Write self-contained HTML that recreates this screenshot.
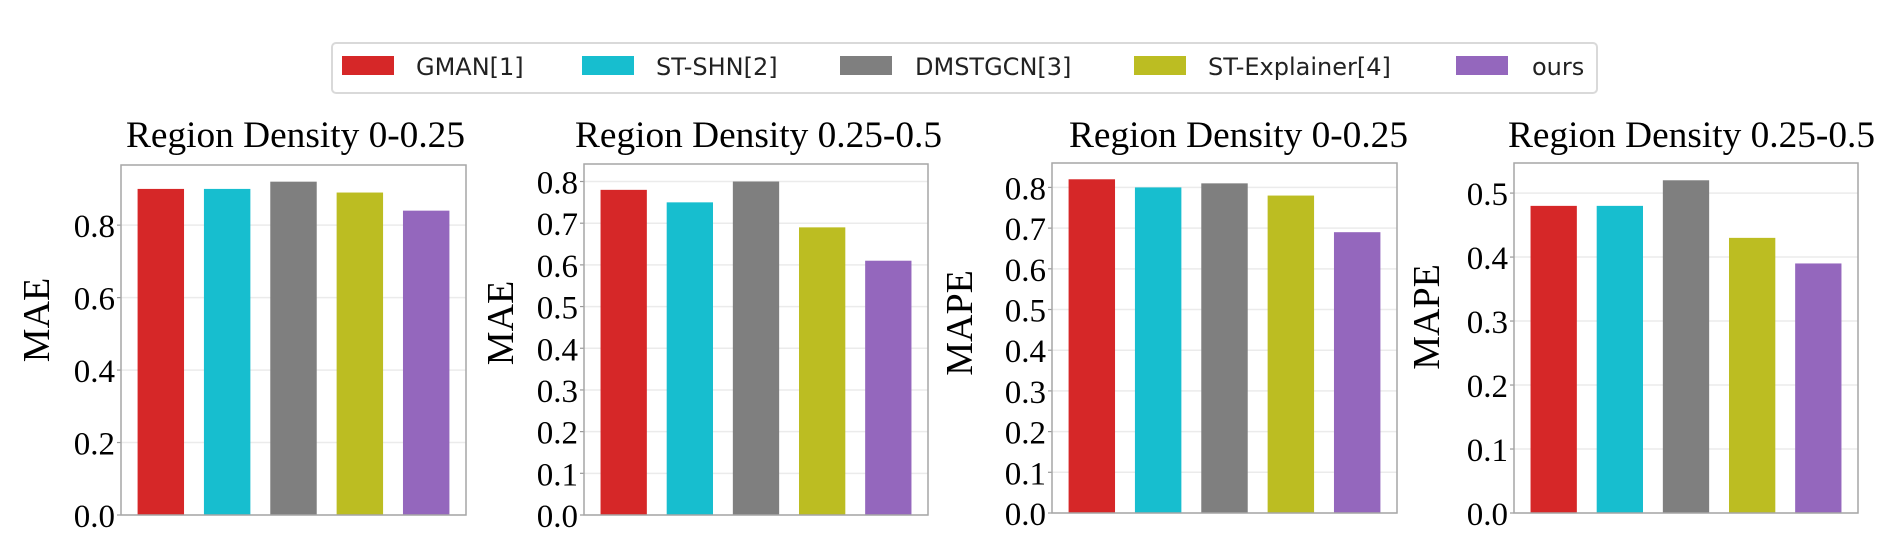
<!DOCTYPE html>
<html><head><meta charset="utf-8"><style>
html,body{margin:0;padding:0;background:#fff;}
svg{display:block;}
</style></head><body>
<svg id="chart" width="1900" height="558" viewBox="0 0 1900 558" xmlns="http://www.w3.org/2000/svg">
<g>
<rect x="332" y="43" width="1265" height="50" rx="4" fill="#fff" stroke="#d9d9d9" stroke-width="2"/>
</g>
</svg>
<script>
const methods = ["GMAN[1]", "ST-SHN[2]", "DMSTGCN[3]", "ST-Explainer[4]", "ours"];
const colors = ["#d62728", "#17becf", "#7f7f7f", "#bcbd22", "#9467bd"];
const titles = ["Region Density 0-0.25", "Region Density 0.25-0.5", "Region Density 0-0.25", "Region Density 0.25-0.5"];
const yLabels = ["MAE", "MAE", "MAPE", "MAPE"];
const valuesMAE1 = [0.90, 0.90, 0.92, 0.89, 0.84];
const valuesMAE2 = [0.78, 0.75, 0.80, 0.69, 0.61];
const valuesMAPE1 = [0.82, 0.80, 0.81, 0.78, 0.69];
const valuesMAPE2 = [0.48, 0.48, 0.52, 0.43, 0.39];
const ticks1 = ["0.0", "0.2", "0.4", "0.6", "0.8"];
const ticks2 = ["0.0", "0.1", "0.2", "0.3", "0.4", "0.5", "0.6", "0.7", "0.8"];
const ticks3 = ["0.0", "0.1", "0.2", "0.3", "0.4", "0.5", "0.6", "0.7", "0.8"];
const ticks4 = ["0.0", "0.1", "0.2", "0.3", "0.4", "0.5"];
const yMax = [0.966, 0.842, 0.86, 0.547];

const svg = document.getElementById('chart');
const NS = "http://www.w3.org/2000/svg";
function mk(tag, attrs, parent) {
  const e = document.createElementNS(NS, tag);
  for (const k in attrs) e.setAttribute(k, attrs[k]);
  (parent || svg).appendChild(e);
  return e;
}

// legend
const patchX = [342, 582, 840, 1134, 1456];
const textX = [416, 656, 915, 1208, 1532];
methods.forEach((m, i) => {
  const r = mk('rect', {x: patchX[i], y: 56, width: 52, height: 19, fill: colors[i]});
  
  
  const t = mk('text', {x: textX[i], y: 75, 'font-family': '"DejaVu Sans", sans-serif', 'font-size': 24, fill: '#222'});
  t.textContent = m;
  
  
});

const panels = [
  {l: 121, r: 466, t: 165, b: 515, vals: valuesMAE1, ticks: ticks1, titleX: 126, titleW: 339, labX: 36, labY: 320},
  {l: 584, r: 928, t: 164, b: 515, vals: valuesMAE2, ticks: ticks2, titleX: 575, titleW: 367, labX: 500, labY: 323},
  {l: 1052, r: 1397, t: 163, b: 513, vals: valuesMAPE1, ticks: ticks3, titleX: 1069, titleW: 339, labX: 959, labY: 323},
  {l: 1514, r: 1858, t: 163, b: 513, vals: valuesMAPE2, ticks: ticks4, titleX: 1508, titleW: 367, labX: 1426, labY: 317}
];

panels.forEach((p, pi) => {
  const g = mk('g', {});
  
  
  const y = v => p.b - v / yMax[pi] * (p.b - p.t);
  const step = (p.r - p.l) / 5.2;
  const x = i => p.l + (0.6 + i) * step;
  // grid + ticks
  p.ticks.forEach(tk => {
    const v = parseFloat(tk);
    const gy = y(v);
    const gl = mk('line', {x1: p.l, x2: p.r, y1: gy, y2: gy, stroke: '#ebebeb', 'stroke-width': 1.5}, g);
    
    
    const tm = mk('line', {x1: p.l - 4, x2: p.l, y1: gy, y2: gy, stroke: '#999', 'stroke-width': 1.2}, g);
    
    
    const tl = mk('text', {x: p.l - 6, y: gy + 12, 'text-anchor': 'end', 'font-family': '"Liberation Serif", serif', 'font-size': 33, fill: '#000'}, g);
    tl.textContent = tk;
    
    
  });
  // bars
  p.vals.forEach((v, i) => {
    const bw = step * 0.7;
    const b = mk('rect', {x: x(i) - bw / 2, y: y(v), width: bw, height: p.b - y(v), fill: colors[i]}, g);
    
    
  });
  // frame
  const fr = mk('rect', {x: p.l, y: p.t, width: p.r - p.l, height: p.b - p.t, fill: 'none', stroke: '#a6a6a6', 'stroke-width': 1.5}, g);
  
  
  // title
  const tt = mk('text', {x: p.titleX, y: 147, 'font-family': '"Liberation Serif", serif', 'font-size': 37, textLength: p.titleW, lengthAdjust: 'spacingAndGlyphs', fill: '#000'}, g);
  tt.textContent = titles[pi];
  
  
  // y label
  const yl = mk('text', {x: 0, y: 0, transform: `translate(${p.labX + 13},${p.labY}) rotate(-90)`, 'text-anchor': 'middle', 'font-family': '"Liberation Serif", serif', 'font-size': 38, fill: '#000'}, g);
  yl.textContent = yLabels[pi];
  
  
});
</script>
</body></html>
